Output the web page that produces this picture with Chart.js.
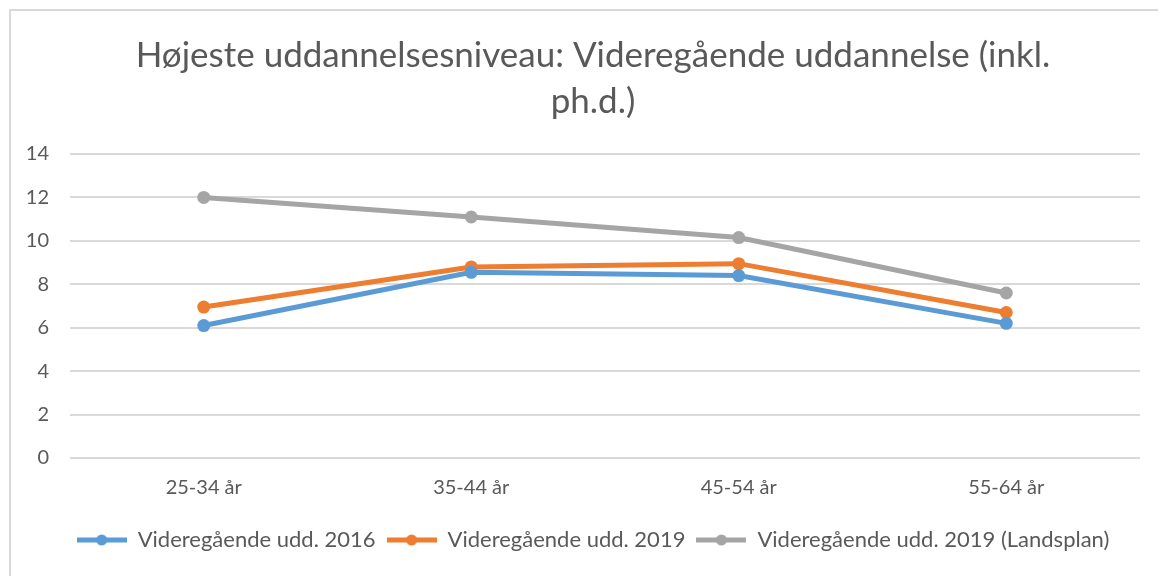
<!DOCTYPE html>
<html>
<head>
<meta charset="utf-8">
<script src="https://cdn.jsdelivr.net/npm/chart.js@4"></script>
<style>
  body { margin: 0; background: #fff; overflow: hidden; }
  #ramme { position: absolute; left: 9px; top: 9px; width: 1200px; height: 620px; border: 2px solid #d9d9d9; }
  #boks { position: absolute; left: 0; top: 0; width: 1158px; height: 576px; }
</style>
</head>
<body>
<div id="ramme"></div>
<div id="boks"><canvas id="grafico" width="1158" height="576"></canvas></div>
<script>
var kategorier = ['25-34 år', '35-44 år', '45-54 år', '55-64 år'];
var udd2016 = [6.1, 8.55, 8.4, 6.2];
var udd2019 = [6.95, 8.8, 8.95, 6.7];
var landsplan2019 = [12.0, 11.1, 10.15, 7.6];
var serieNavne = ['Videregående udd. 2016', 'Videregående udd. 2019', 'Videregående udd. 2019 (Landsplan)'];
var farver = ['#5B9BD5', '#ED7D31', '#A5A5A5'];
var titel = ['Højeste uddannelsesniveau: Videregående uddannelse (inkl.', 'ph.d.)'];

var tekstFarve = '#595959';
var font = 'Lato, "Open Sans", sans-serif';

// lille ikon til legenden: streg med prik i midten
function legendeIkon(farve) {
    var c = document.createElement('canvas');
    c.width = 50;
    c.height = 14;
    var g = c.getContext('2d');
    g.strokeStyle = farve;
    g.lineWidth = 5;
    g.beginPath();
    g.moveTo(0, 7);
    g.lineTo(50, 7);
    g.stroke();
    g.fillStyle = farve;
    g.beginPath();
    g.arc(25, 7, 5.5, 0, Math.PI * 2);
    g.fill();
    return c;
}

function lavSerie(i, data) {
    return {
        label: serieNavne[i],
        data: data,
        borderColor: farver[i],
        backgroundColor: farver[i],
        borderWidth: 5,
        pointRadius: 6.5,
        pointHoverRadius: 6.5,
        pointBorderWidth: 0,
        pointStyle: 'circle',
        tension: 0
    };
}

// titel og legende står lidt mere mod højre i originalen
var flytTekst = {
    id: 'flytTekst',
    afterLayout: function (chart) {
        if (chart.titleBlock) chart.titleBlock.left += 46;
        if (chart.legend) chart.legend.left += 46;
    }
};

var ctx = document.getElementById('grafico').getContext('2d');
new Chart(ctx, {
    type: 'line',
    data: {
        labels: kategorier,
        datasets: [lavSerie(0, udd2016), lavSerie(1, udd2019), lavSerie(2, landsplan2019)]
    },
    plugins: [flytTekst],
    options: {
        responsive: false,
        animation: false,
        devicePixelRatio: 1,
        layout: { padding: { left: 0, right: 18, top: 0, bottom: 15 } },
        plugins: {
            title: {
                display: true,
                text: titel,
                color: tekstFarve,
                font: { family: font, size: 35, weight: 'normal', lineHeight: 1.3 },
                padding: { top: 33, bottom: 30 }
            },
            legend: {
                position: 'bottom',
                labels: {
                    color: tekstFarve,
                    font: { family: font, size: 22 },
                    usePointStyle: true,
                    pointStyleWidth: 50,
                    boxHeight: 14,
                    padding: 11,
                    generateLabels: function (chart) {
                        return chart.data.datasets.map(function (ds, i) {
                            return {
                                text: ds.label,
                                fillStyle: ds.borderColor,
                                strokeStyle: ds.borderColor,
                                lineWidth: 0,
                                pointStyle: legendeIkon(ds.borderColor),
                                fontColor: tekstFarve,
                                datasetIndex: i
                            };
                        });
                    }
                }
            },
            tooltip: { enabled: false }
        },
        scales: {
            x: {
                offset: true,
                grid: { display: false, drawTicks: false },
                border: { display: false },
                ticks: { color: tekstFarve, font: { family: font, size: 20 }, padding: 18 }
            },
            y: {
                min: 0,
                max: 14,
                afterFit: function (skala) { skala.width = 70; },
                grid: { color: '#d9d9d9', lineWidth: 2, drawTicks: false },
                border: { display: false },
                ticks: { stepSize: 2, color: tekstFarve, font: { family: font, size: 20 }, padding: 21 }
            }
        }
    }
});
</script>
</body>
</html>
